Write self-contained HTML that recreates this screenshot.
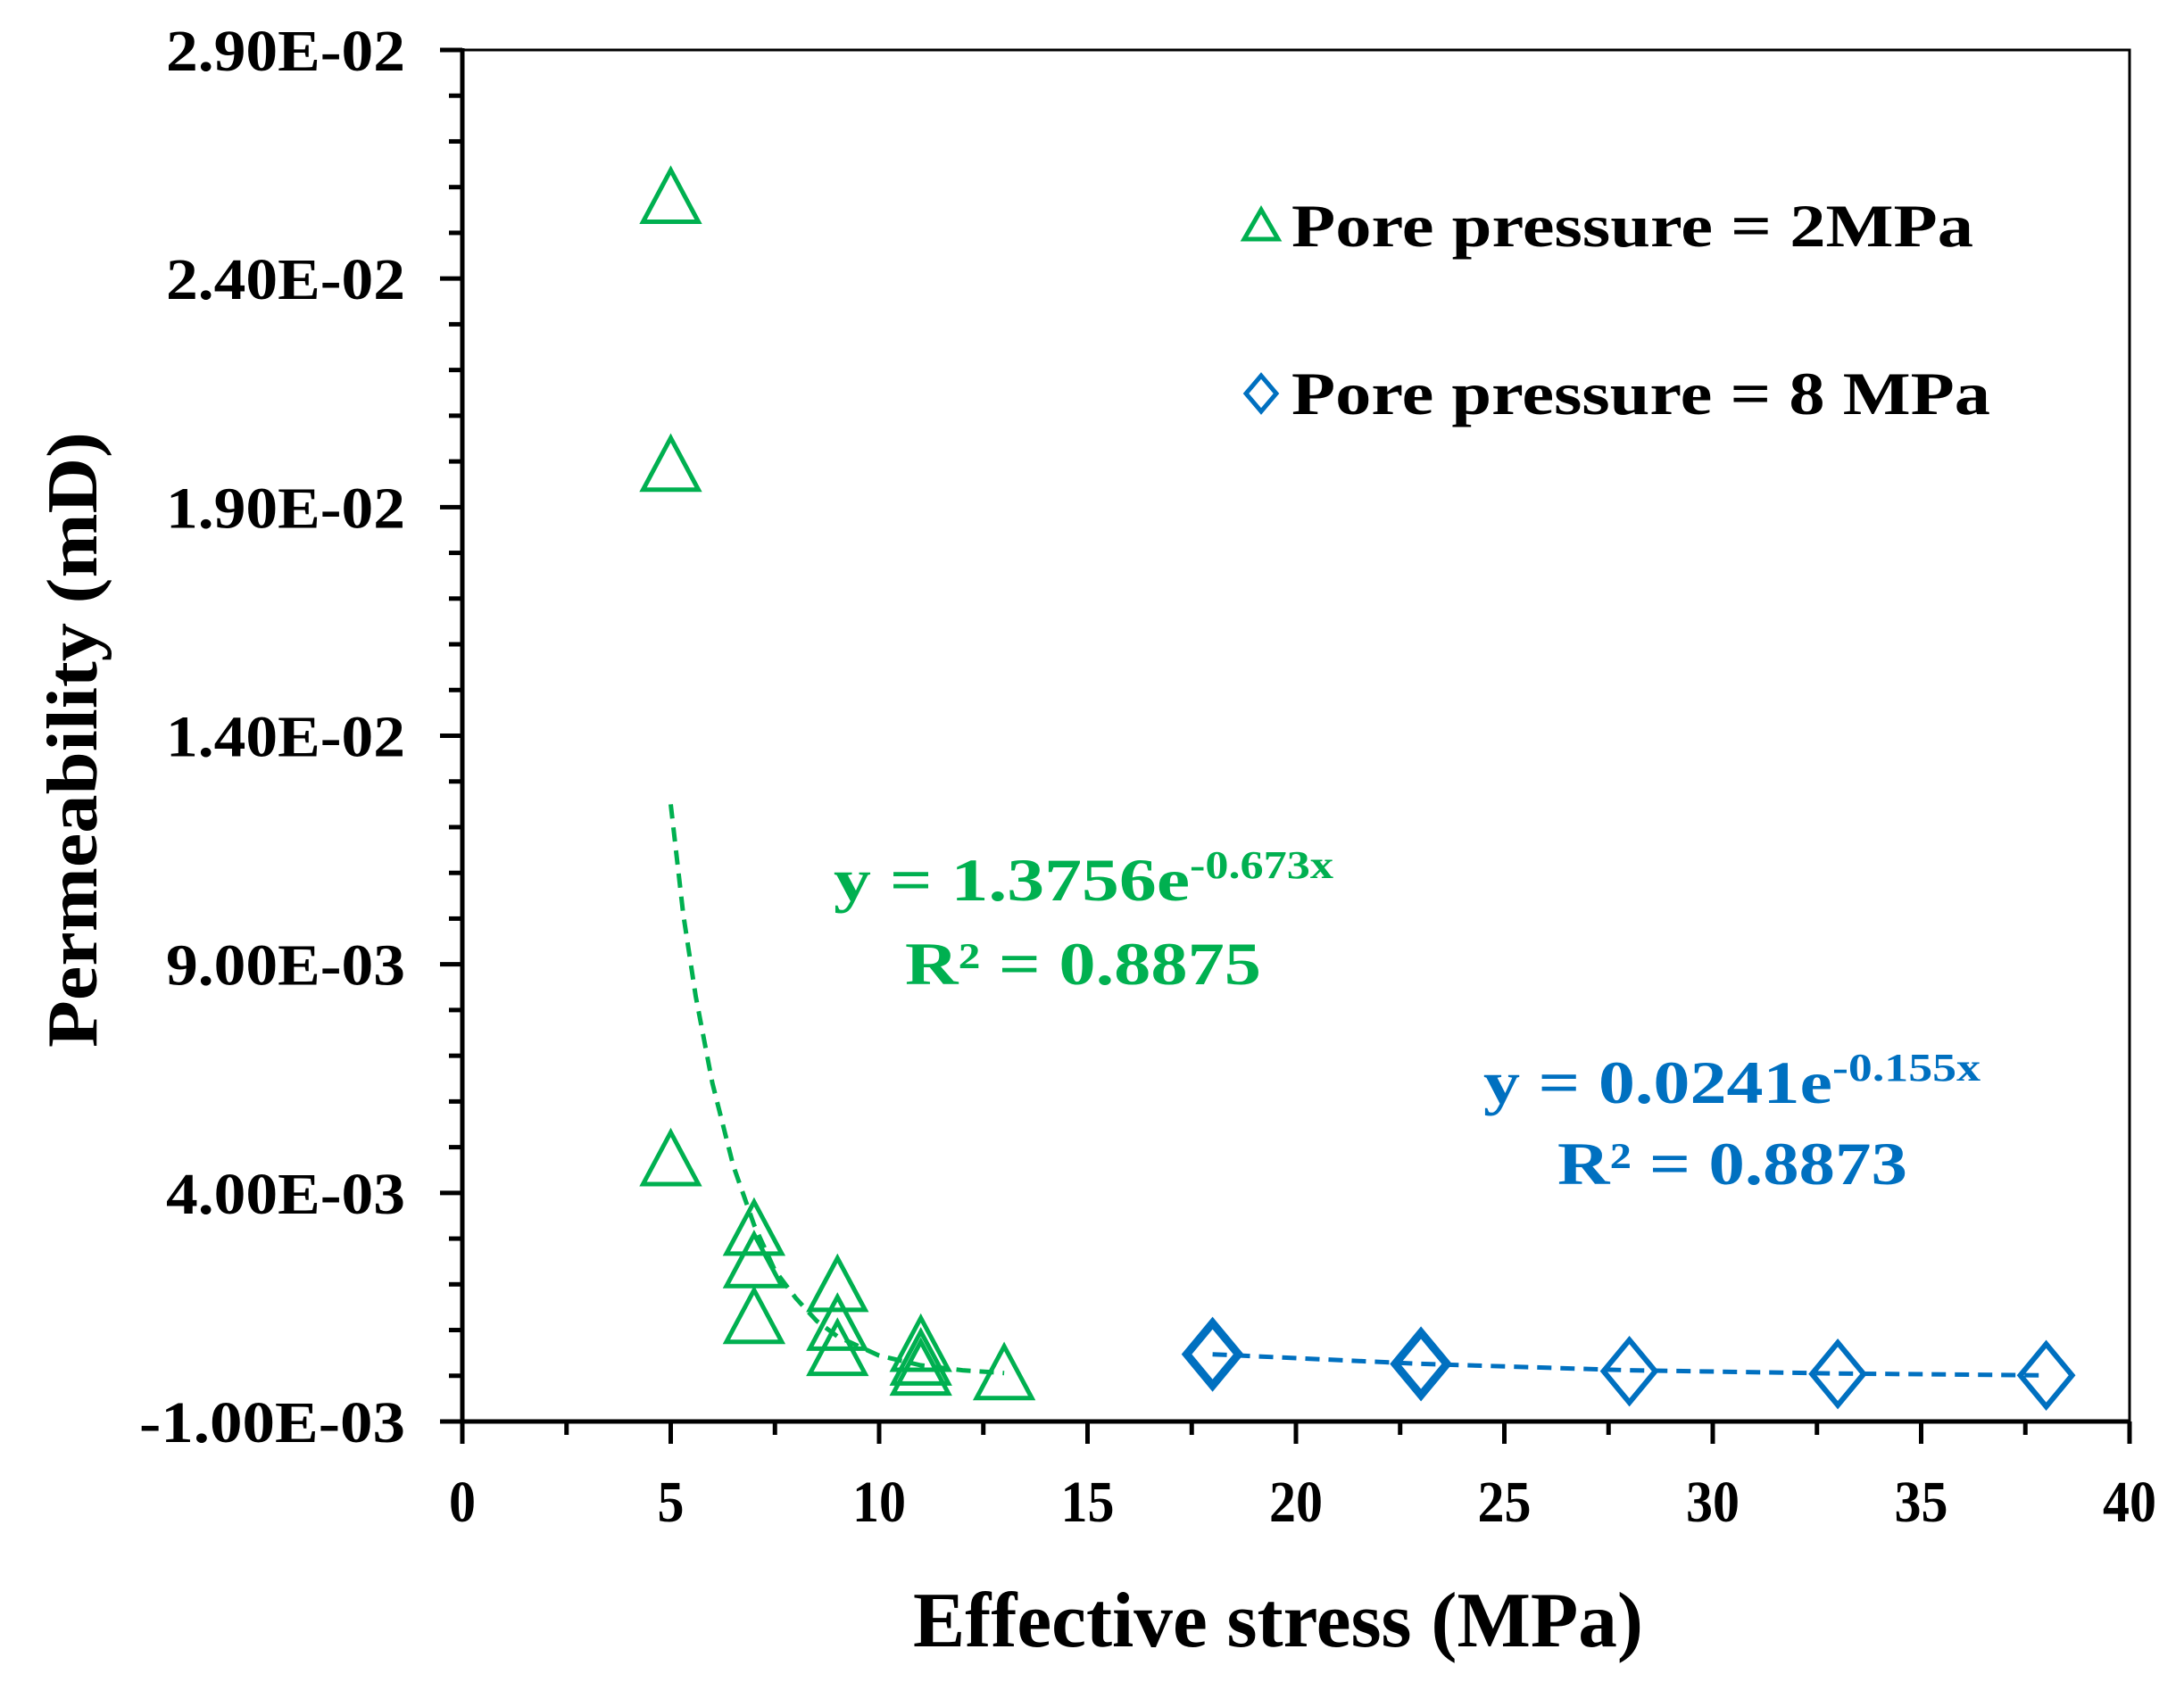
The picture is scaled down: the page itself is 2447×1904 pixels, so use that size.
<!DOCTYPE html>
<html><head><meta charset="utf-8">
<style>
html,body{margin:0;padding:0;background:#fff;}
svg{display:block;}
text{font-family:"Liberation Serif","Times New Roman",serif;font-weight:bold;}
</style></head>
<body>
<svg id="chart" width="2447" height="1904" viewBox="0 0 2447 1904" xmlns="http://www.w3.org/2000/svg">
<rect x="0" y="0" width="2447" height="1904" fill="#fff"/>
<g id="marks"></g>
<g id="axes"></g>
<text transform="translate(108,829) rotate(-90)" text-anchor="middle" font-size="80" textLength="690" lengthAdjust="spacingAndGlyphs">Permeability (mD)</text>
<text x="1432" y="1845" text-anchor="middle" font-size="88" textLength="818" lengthAdjust="spacingAndGlyphs">Effective stress (MPa)</text>
<g>
  <polygon points="1413,235 1432,268 1394,268" fill="none" stroke="#00B050" stroke-width="5"/>
  <text x="1447" y="276" font-size="68" textLength="764" lengthAdjust="spacingAndGlyphs">Pore pressure = 2MPa</text>
  <polygon points="1413,421 1430,441 1413,461 1396,441" fill="none" stroke="#0070C0" stroke-width="5"/>
  <text x="1447" y="464" font-size="68" textLength="783" lengthAdjust="spacingAndGlyphs">Pore pressure = 8 MPa</text>
</g>
<text x="934" y="1009" font-size="68" fill="#00B050" textLength="399" lengthAdjust="spacingAndGlyphs">y = 1.3756e</text>
<text x="1333" y="984" font-size="44" fill="#00B050" textLength="161" lengthAdjust="spacingAndGlyphs">-0.673x</text>
<text x="1014" y="1103" font-size="68" fill="#00B050" textLength="399" lengthAdjust="spacingAndGlyphs">R² = 0.8875</text>
<text x="1662" y="1236" font-size="68" fill="#0070C0" textLength="391" lengthAdjust="spacingAndGlyphs">y = 0.0241e</text>
<text x="2053" y="1211" font-size="44" fill="#0070C0" textLength="166" lengthAdjust="spacingAndGlyphs">-0.155x</text>
<text x="1745" y="1327" font-size="68" fill="#0070C0" textLength="392" lengthAdjust="spacingAndGlyphs">R² = 0.8873</text>
</svg>
<script>
const xTicks = [0,5,10,15,20,25,30,35,40];
const yTicks = [-0.001,0.004,0.009,0.014,0.019,0.024,0.029];
const yTickLabels = ["-1.00E-03","4.00E-03","9.00E-03","1.40E-02","1.90E-02","2.40E-02","2.90E-02"];
const greenX = [5,5,5,7,7,7,9,9,9,11,11,11,13];
const greenY = [0.02573,0.01987,0.00468,0.00316,0.00245,0.00123,0.00193,0.00108,0.00053,0.00062,0.00032,0.00010,0.00000];
const blueX = [18,23,28,33,38];
const blueY = [0.00047,0.00026,0.00010,0.00004,0.00001];
const greenTrendX = [5,5.3,5.6,6,6.5,7,7.5,8,8.5,9,10,11,12,13];
const greenTrendY = [0.0125,0.0101,0.0083,0.0064,0.0046,0.0033,0.0023,0.0017,0.0012,0.00086,0.00044,0.00023,0.00012,0.00006];
const blueTrendX = [18,23,28,33,38];
const blueTrendY = [0.00047,0.00026,0.00012,0.00005,0.00001];

const X0=518, X1=2386, Y0=1593, Y1=56;
const xMin=0,xMax=40,yMin=-0.001,yMax=0.029;
function sx(v){return X0+(v-xMin)/(xMax-xMin)*(X1-X0);}
function sy(v){return Y0-(v-yMin)/(yMax-yMin)*(Y0-Y1);}
const NS="http://www.w3.org/2000/svg";
function mk(tag,attrs,parent){const e=document.createElementNS(NS,tag);for(const k in attrs)e.setAttribute(k,attrs[k]);parent.appendChild(e);return e;}
const axes=document.getElementById('axes');
const marks=document.getElementById('marks');

let fr=mk('path',{d:`M${X0},${Y1} L${X1},${Y1} L${X1},${Y0}`,fill:'none',stroke:'#000','stroke-width':3},axes);


let ya=mk('line',{x1:X0,y1:Y1-2,x2:X0,y2:Y0+2,stroke:'#000','stroke-width':5},axes);


let xa=mk('line',{x1:X0-2,y1:Y0,x2:X1,y2:Y0,stroke:'#000','stroke-width':5},axes);



yTicks.forEach((v,i)=>{
  const y=sy(v);
  let t=mk('line',{x1:X0-25,y1:y,x2:X0,y2:y,stroke:'#000','stroke-width':5},axes);
  
  
  const w = yTickLabels[i].startsWith('-') ? 298 : 268;
  let l=mk('text',{x:X0-64,y:y+23,'text-anchor':'end','font-size':66,textLength:w,lengthAdjust:'spacingAndGlyphs'},axes);
  l.textContent=yTickLabels[i];
  
  
  if(i<yTicks.length-1){
    for(let k=1;k<5;k++){
      const ym=sy(v+k*0.001);
      let m=mk('line',{x1:X0-15,y1:ym,x2:X0,y2:ym,stroke:'#000','stroke-width':5},axes);
      
      
    }
  }
});
xTicks.forEach((v,i)=>{
  const x=sx(v);
  let t=mk('line',{x1:x,y1:Y0,x2:x,y2:Y0+25,stroke:'#000','stroke-width':5},axes);
  
  
  const s=String(v);
  let l=mk('text',{x:x,y:Y0+112,'text-anchor':'middle','font-size':66,textLength:s.length*30,lengthAdjust:'spacingAndGlyphs'},axes);
  l.textContent=s;
  
  
  if(i<xTicks.length-1){
    const xm=sx(v+2.5);
    let m=mk('line',{x1:xm,y1:Y0,x2:xm,y2:Y0+15,stroke:'#000','stroke-width':5},axes);
    
    
  }
});

function poly(xs,ys){return xs.map((x,i)=>sx(x).toFixed(1)+','+sy(ys[i]).toFixed(1)).join(' ');}
let gt=mk('polyline',{points:poly(greenTrendX,greenTrendY),fill:'none',stroke:'#00B050','stroke-width':5,'stroke-dasharray':'16,10'},marks);


let bt=mk('polyline',{points:poly(blueTrendX,blueTrendY),fill:'none',stroke:'#0070C0','stroke-width':5,'stroke-dasharray':'16,10'},marks);



greenX.forEach((xv,i)=>{
  const cx=sx(xv), cy=sy(greenY[i]);
  let p=mk('polygon',{points:`${cx},${cy-33} ${cx+31},${cy+25} ${cx-31},${cy+25}`,fill:'none',stroke:'#00B050','stroke-width':5},marks);
  
  
});
blueX.forEach((xv,i)=>{
  const cx=sx(xv), cy=sy(blueY[i]);
  let p=mk('polygon',{points:`${cx},${cy-35} ${cx+29},${cy} ${cx},${cy+35} ${cx-29},${cy}`,fill:'none',stroke:'#0070C0','stroke-width':i<2?9:6},marks);
  
  
});
</script>
</body></html>
